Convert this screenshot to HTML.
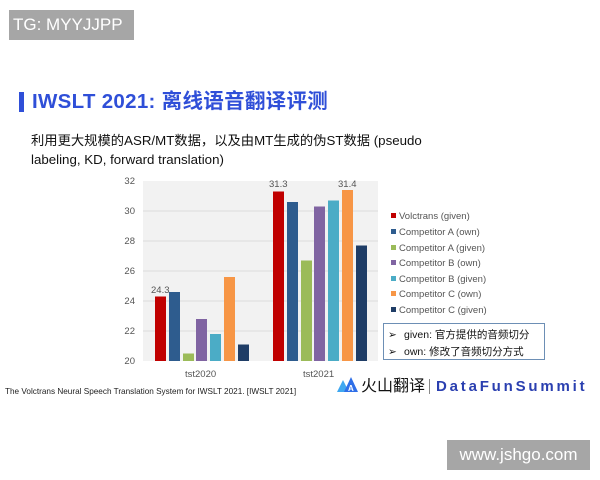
<!DOCTYPE html>
<html><head><meta charset="utf-8"><style>
body{margin:0;width:600px;height:480px;background:#fff;position:relative;overflow:hidden;font-family:"Liberation Sans","Noto Sans CJK SC",sans-serif;}
.a{position:absolute;white-space:nowrap;}
</style></head><body>
<div class="a" style="left:9px;top:10px;width:121px;height:30px;background:#a6a6a6;color:#fff;font-size:17px;line-height:30px;padding-left:4px;">TG: MYYJJPP</div>
<div class="a" style="left:19px;top:92px;width:5px;height:20px;background:#2f4fd8;"></div>
<div class="a" style="left:32px;top:88px;font-size:20.5px;font-weight:bold;color:#2f4fd8;line-height:28px;letter-spacing:0.3px;">IWSLT 2021: 离线语音翻译评测</div>
<div class="a" style="left:31px;top:131px;font-size:13.3px;color:#111;line-height:19px;">利用更大规模的ASR/MT数据，以及由MT生成的伪ST数据 (pseudo<br>labeling, KD, forward translation)</div>
<svg class="a" style="left:0;top:0" width="600" height="480">
<rect x="143" y="181" width="235" height="180" fill="#f2f2f2"/>
<g stroke="#dcdcdc" stroke-width="1">
<line x1="143" x2="378" y1="211" y2="211"/><line x1="143" x2="378" y1="241" y2="241"/><line x1="143" x2="378" y1="271" y2="271"/><line x1="143" x2="378" y1="301" y2="301"/><line x1="143" x2="378" y1="331" y2="331"/>
</g>
<g font-size="9.5" fill="#555" text-anchor="end" font-family="Liberation Sans">
<text x="135" y="184">32</text><text x="135" y="214">30</text><text x="135" y="244">28</text><text x="135" y="274">26</text><text x="135" y="304">24</text><text x="135" y="334">22</text><text x="135" y="364">20</text>
</g>
<g>
<rect x="155" y="296.5" width="11" height="64.5" fill="#c00000"/>
<rect x="169" y="292" width="11" height="69" fill="#2e5c8e"/>
<rect x="183" y="353.5" width="11" height="7.5" fill="#9bbb59"/>
<rect x="196" y="319" width="11" height="42" fill="#8064a2"/>
<rect x="210" y="334" width="11" height="27" fill="#4bacc6"/>
<rect x="224" y="277" width="11" height="84" fill="#f79646"/>
<rect x="238" y="344.5" width="11" height="16.5" fill="#1f3d66"/>
<rect x="273" y="191.5" width="11" height="169.5" fill="#c00000"/>
<rect x="287" y="202" width="11" height="159" fill="#2e5c8e"/>
<rect x="301" y="260.5" width="11" height="100.5" fill="#9bbb59"/>
<rect x="314" y="206.5" width="11" height="154.5" fill="#8064a2"/>
<rect x="328" y="200.5" width="11" height="160.5" fill="#4bacc6"/>
<rect x="342" y="190" width="11" height="171" fill="#f79646"/>
<rect x="356" y="245.5" width="11" height="115.5" fill="#1f3d66"/>
</g>
<g font-size="9.5" fill="#555" font-family="Liberation Sans">
<text x="151" y="293">24.3</text><text x="269" y="187">31.3</text><text x="338" y="187">31.4</text>
<text x="185" y="377">tst2020</text><text x="303" y="377">tst2021</text>
</g>
<g font-size="9.5" fill="#555" font-family="Liberation Sans">
<rect x="391" y="213" width="5" height="5" fill="#c00000"/><text x="399" y="219">Volctrans (given)</text>
<rect x="391" y="229" width="5" height="5" fill="#2e5c8e"/><text x="399" y="235">Competitor A (own)</text>
<rect x="391" y="245" width="5" height="5" fill="#9bbb59"/><text x="399" y="251">Competitor A (given)</text>
<rect x="391" y="260" width="5" height="5" fill="#8064a2"/><text x="399" y="266">Competitor B (own)</text>
<rect x="391" y="276" width="5" height="5" fill="#4bacc6"/><text x="399" y="282">Competitor B (given)</text>
<rect x="391" y="291" width="5" height="5" fill="#f79646"/><text x="399" y="297">Competitor C (own)</text>
<rect x="391" y="307" width="5" height="5" fill="#1f3d66"/><text x="399" y="313">Competitor C (given)</text>
</g>
<rect x="383.5" y="323.5" width="161" height="36" fill="#fff" stroke="#6d8fb5"/>
<g font-size="10.5" fill="#111" font-family="Liberation Sans, Noto Sans CJK SC, sans-serif">
<text x="388" y="338">➢</text><text x="404" y="338">given: 官方提供的音频切分</text>
<text x="388" y="355">➢</text><text x="404" y="355">own: 修改了音频切分方式</text>
</g>
<text x="5" y="394" font-size="8.2" fill="#222" font-family="Liberation Sans">The Volctrans Neural Speech Translation System for IWSLT 2021. [IWSLT 2021]</text>
<polygon points="337,392 343,380 349,392" fill="#3fa7f0"/>
<polygon points="344,392 351,377 358,392" fill="#2f6fe8"/>
<text x="348" y="391" font-size="8" fill="#fff" font-weight="bold" font-family="Liberation Sans">A</text>
</svg>
<div class="a" style="left:361px;top:377px;font-size:16px;color:#111;line-height:20px;">火山翻译</div>
<div class="a" style="left:429px;top:379px;width:1px;height:15px;background:#888;"></div>
<div class="a" style="left:436px;top:377px;font-size:15px;font-weight:bold;color:#2a3fb0;letter-spacing:2.8px;line-height:20px;">DataFunSummit</div>
<div class="a" style="left:447px;top:440px;width:143px;height:30px;background:#a6a6a6;color:#fff;font-size:17px;line-height:30px;text-align:center;">www.jshgo.com</div>
</body></html>
